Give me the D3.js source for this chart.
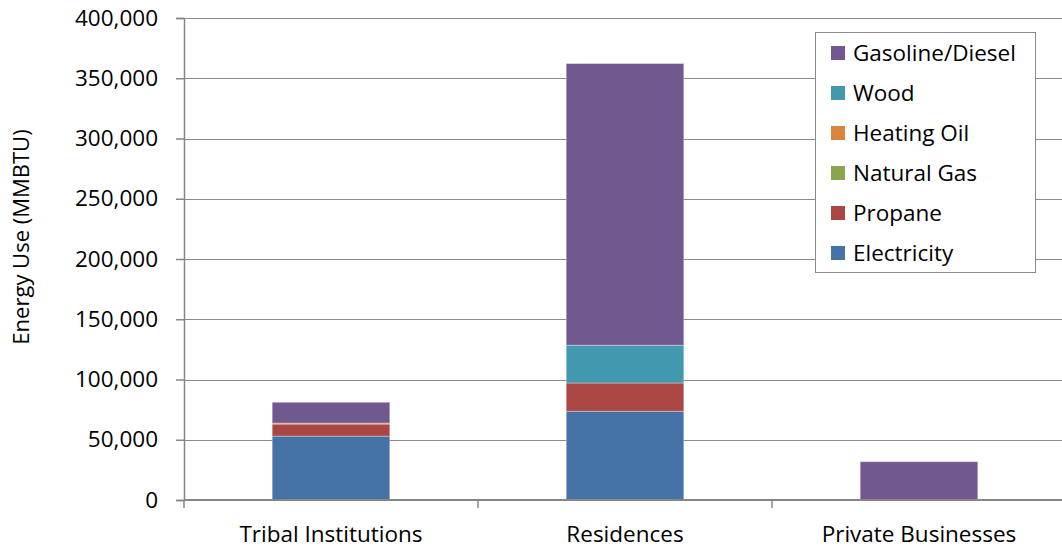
<!DOCTYPE html>
<html>
<head>
<meta charset="utf-8">
<script src="https://cdn.jsdelivr.net/npm/d3@7"></script>
<style>
  html, body { margin: 0; padding: 0; background: #fff; }
  svg { display: block; font-family: "Open Sans", "Noto Sans", sans-serif; }
</style>
</head>
<body>
<svg id="chart" width="1062" height="550"></svg>
<script>
// Energy use by sector, stacked by fuel (MMBTU)
const categories = ["Tribal Institutions", "Residences", "Private Businesses"];
const electricity = [53000, 73600, 0];
const propane     = [10000, 23500, 0];
const naturalGas  = [0, 0, 0];
const heatingOil  = [800, 0, 0];
const wood        = [0, 31300, 0];
const gasoline    = [17300, 233800, 31800];
const yTicks = [0, 50000, 100000, 150000, 200000, 250000, 300000, 350000, 400000];

const seriesNames  = ["Electricity", "Propane", "Natural Gas", "Heating Oil", "Wood", "Gasoline/Diesel"];
const seriesValues = [electricity, propane, naturalGas, heatingOil, wood, gasoline];
const seriesColors = ["#4572A7", "#AA4643", "#89A54E", "#DB843D", "#4198AF", "#71588F"];

const rows = categories.map((c, i) => {
  const r = { category: c };
  seriesNames.forEach((s, j) => { r[s] = seriesValues[j][i]; });
  return r;
});

const svg = d3.select("#chart");
const plotLeft = 184, plotRight = 1066, plotTop = 18, plotBottom = 500;

const x = d3.scaleBand().domain(categories).range([plotLeft, plotRight]).paddingInner(0.6).paddingOuter(0.3);
const xEdge = d3.scaleBand().domain(categories).range([plotLeft, plotRight]);
const y = d3.scaleLinear().domain([0, 400000]).range([plotBottom, plotTop]);

// horizontal gridlines
svg.append("g")
  .selectAll("line")
  .data(yTicks.filter(t => t > 0))
  .join("line")
  .attr("x1", plotLeft).attr("x2", plotRight)
  .attr("y1", d => Math.round(y(d)) + 0.5).attr("y2", d => Math.round(y(d)) + 0.5)
  .attr("stroke", "#8a8a8a").attr("stroke-width", 1);

// stacked bars
const stack = d3.stack().keys(seriesNames)(rows);
svg.append("g")
  .selectAll("g")
  .data(stack)
  .join("g")
  .attr("fill", (d, i) => seriesColors[i])
  .selectAll("rect")
  .data(d => d.filter(p => p[1] - p[0] > 0))
  .join("rect")
  .attr("x", d => x(d.data.category))
  .attr("width", x.bandwidth())
  .attr("y", d => y(d[1]))
  .attr("height", d => y(d[0]) - y(d[1]))
  .attr("stroke", "#ffffff").attr("stroke-opacity", 0.35).attr("stroke-width", 1);

// y axis
const yAxis = d3.axisLeft(y).tickValues(yTicks).tickSize(8).tickPadding(18)
  .tickFormat(d3.format(","));
const gy = svg.append("g").attr("transform", `translate(${plotLeft},0)`).call(yAxis);
gy.select(".domain").attr("stroke", "#868686").attr("stroke-width", 1.5);
gy.selectAll(".tick line").attr("stroke", "#868686").attr("stroke-width", 1.5);
gy.selectAll(".tick text").attr("font-size", 22.5).attr("fill", "#000")
  .attr("font-family", "Open Sans");

// x axis: baseline with ticks at category boundaries
const gx = svg.append("g").attr("transform", `translate(0,${plotBottom})`);
gx.append("line").attr("x1", plotLeft).attr("x2", plotRight).attr("y1", 0).attr("y2", 0)
  .attr("stroke", "#868686").attr("stroke-width", 2);
gx.selectAll("line.tick")
  .data(categories)
  .join("line").attr("class", "tick")
  .attr("x1", d => xEdge(d)).attr("x2", d => xEdge(d))
  .attr("y1", 0).attr("y2", 8)
  .attr("stroke", "#868686").attr("stroke-width", 1.5);
gx.selectAll("text")
  .data(categories)
  .join("text")
  .attr("x", d => x(d) + x.bandwidth() / 2)
  .attr("y", 42)
  .attr("text-anchor", "middle")
  .attr("font-size", 22.5)
  .attr("fill", "#000")
  .text(d => d);

// y axis title
svg.append("text")
  .attr("transform", "translate(29,237) rotate(-90)")
  .attr("text-anchor", "middle")
  .attr("font-size", 22)
  .attr("fill", "#000")
  .text("Energy Use (MMBTU)");

// legend (top series first)
const legend = svg.append("g");
legend.append("rect")
  .attr("x", 815.5).attr("y", 32.5).attr("width", 220).attr("height", 240)
  .attr("fill", "#fff").attr("stroke", "#8a8a8a").attr("stroke-width", 1);
const items = seriesNames.map((n, i) => ({ name: n, color: seriesColors[i] })).reverse();
const li = legend.selectAll("g.item").data(items).join("g").attr("class", "item")
  .attr("transform", (d, i) => `translate(831,${53 + i * 40})`);
li.append("rect").attr("x", 0).attr("y", -7).attr("width", 14).attr("height", 14)
  .attr("fill", d => d.color);
li.append("text").attr("x", 22).attr("y", 0).attr("dy", "0.36em")
  .attr("font-size", 22.5).attr("fill", "#000").text(d => d.name);
</script>
</body>
</html>
